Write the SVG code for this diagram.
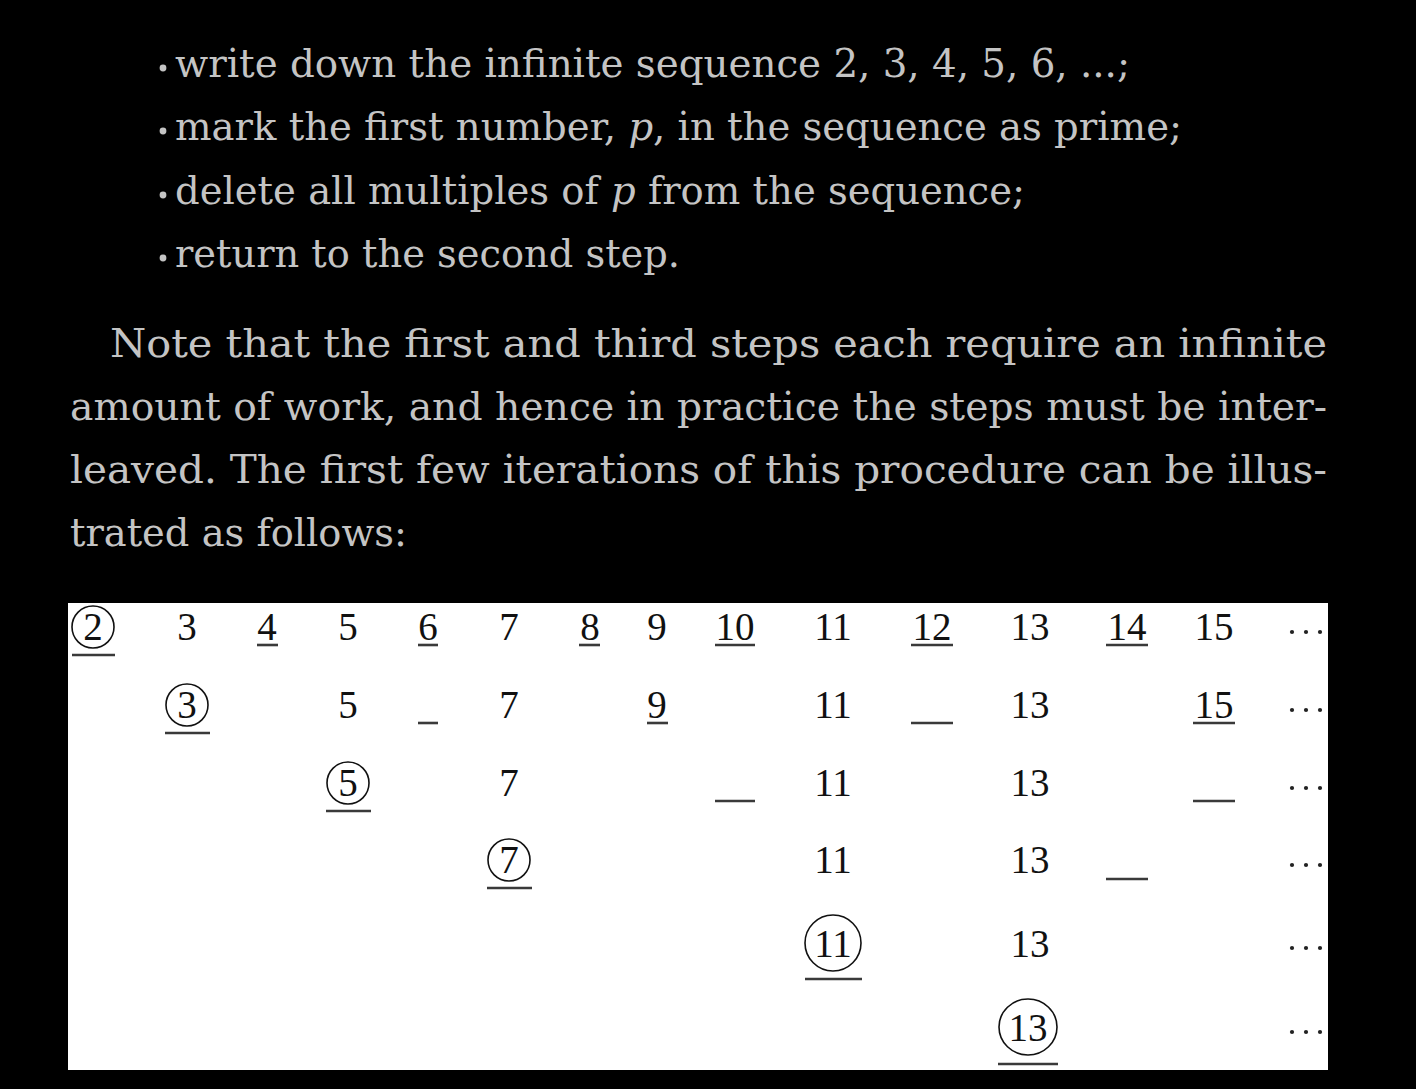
<svg xmlns="http://www.w3.org/2000/svg" width="1416" height="1089" viewBox="0 0 1416 1089">
<style>
.t{font-family:"DejaVu Serif","Liberation Serif",serif;font-size:39px;fill:#c4c4c4}
.i{font-style:italic}
.n{font-family:"Liberation Serif","DejaVu Serif",serif;font-size:39px;fill:#111;text-anchor:middle}
.c{fill:none;stroke:#111;stroke-width:1.6}
.u{stroke:#3a3a3a;stroke-width:2.6}
.d{fill:#222}
.b{fill:#c4c4c4}
</style>
<rect width="1416" height="1089" fill="#000"/>
<g id="bullets">
<circle class="b" cx="163" cy="68" r="3.4"/>
<circle class="b" cx="163" cy="131" r="3.4"/>
<circle class="b" cx="163" cy="195" r="3.4"/>
<circle class="b" cx="163" cy="258" r="3.4"/>
<text class="t" x="175" y="77" textLength="955" lengthAdjust="spacingAndGlyphs">write down the infinite sequence 2, 3, 4, 5, 6, ...;</text>
<text class="t" x="175" y="140" textLength="1007" lengthAdjust="spacingAndGlyphs">mark the first number, <tspan class="i">p</tspan>, in the sequence as prime;</text>
<text class="t" x="175" y="204" textLength="850" lengthAdjust="spacingAndGlyphs">delete all multiples of <tspan class="i">p</tspan> from the sequence;</text>
<text class="t" x="175" y="267" textLength="505" lengthAdjust="spacingAndGlyphs">return to the second step.</text>
</g>
<g id="paragraph">
<text class="t" x="110" y="357" textLength="1217" lengthAdjust="spacingAndGlyphs">Note that the first and third steps each require an infinite</text>
<text class="t" x="70" y="420" textLength="1257" lengthAdjust="spacingAndGlyphs">amount of work, and hence in practice the steps must be inter-</text>
<text class="t" x="70" y="483" textLength="1257" lengthAdjust="spacingAndGlyphs">leaved. The first few iterations of this procedure can be illus-</text>
<text class="t" x="70" y="546" textLength="337" lengthAdjust="spacingAndGlyphs">trated as follows:</text>
</g>
<g id="table">
<rect x="68" y="603" width="1260" height="467" fill="#fff"/>
<g id="row1">
<circle class="c" cx="93" cy="627" r="21"/>
<text class="n" x="93" y="640">2</text>
<line class="u" x1="72" y1="655" x2="115" y2="655"/>
<text class="n" x="187" y="640">3</text>
<text class="n" x="267" y="640">4</text>
<line class="u" x1="257" y1="645" x2="278" y2="645"/>
<text class="n" x="348" y="640">5</text>
<text class="n" x="428" y="640">6</text>
<line class="u" x1="418" y1="645" x2="438" y2="645"/>
<text class="n" x="509" y="640">7</text>
<text class="n" x="590" y="640">8</text>
<line class="u" x1="579" y1="645" x2="600" y2="645"/>
<text class="n" x="657" y="640">9</text>
<text class="n" x="735" y="640">10</text>
<line class="u" x1="715" y1="645" x2="755" y2="645"/>
<text class="n" x="833" y="640">11</text>
<text class="n" x="932" y="640">12</text>
<line class="u" x1="911" y1="645" x2="953" y2="645"/>
<text class="n" x="1030" y="640">13</text>
<text class="n" x="1127" y="640">14</text>
<line class="u" x1="1106" y1="645" x2="1148" y2="645"/>
<text class="n" x="1214" y="640">15</text>
<circle class="d" cx="1292" cy="632" r="2.1"/><circle class="d" cx="1306" cy="632" r="2.1"/><circle class="d" cx="1320" cy="632" r="2.1"/>
</g>
<g id="row2">
<circle class="c" cx="187" cy="705" r="21"/>
<text class="n" x="187" y="718">3</text>
<line class="u" x1="165" y1="733" x2="210" y2="733"/>
<text class="n" x="348" y="718">5</text>
<line class="u" x1="418" y1="723" x2="438" y2="723"/>
<text class="n" x="509" y="718">7</text>
<text class="n" x="657" y="718">9</text>
<line class="u" x1="647" y1="723" x2="668" y2="723"/>
<text class="n" x="833" y="718">11</text>
<line class="u" x1="911" y1="723" x2="953" y2="723"/>
<text class="n" x="1030" y="718">13</text>
<text class="n" x="1214" y="718">15</text>
<line class="u" x1="1193" y1="723" x2="1235" y2="723"/>
<circle class="d" cx="1292" cy="710" r="2.1"/><circle class="d" cx="1306" cy="710" r="2.1"/><circle class="d" cx="1320" cy="710" r="2.1"/>
</g>
<g id="row3">
<circle class="c" cx="348" cy="783" r="21"/>
<text class="n" x="348" y="796">5</text>
<line class="u" x1="326" y1="811" x2="371" y2="811"/>
<text class="n" x="509" y="796">7</text>
<line class="u" x1="715" y1="801" x2="755" y2="801"/>
<text class="n" x="833" y="796">11</text>
<text class="n" x="1030" y="796">13</text>
<line class="u" x1="1193" y1="801" x2="1235" y2="801"/>
<circle class="d" cx="1292" cy="788" r="2.1"/><circle class="d" cx="1306" cy="788" r="2.1"/><circle class="d" cx="1320" cy="788" r="2.1"/>
</g>
<g id="row4">
<circle class="c" cx="509" cy="860" r="21"/>
<text class="n" x="509" y="873">7</text>
<line class="u" x1="487" y1="888" x2="532" y2="888"/>
<text class="n" x="833" y="873">11</text>
<text class="n" x="1030" y="873">13</text>
<line class="u" x1="1106" y1="879" x2="1148" y2="879"/>
<circle class="d" cx="1292" cy="865" r="2.1"/><circle class="d" cx="1306" cy="865" r="2.1"/><circle class="d" cx="1320" cy="865" r="2.1"/>
</g>
<g id="row5">
<ellipse class="c" cx="833" cy="943" rx="28" ry="28"/>
<text class="n" x="833" y="957">11</text>
<line class="u" x1="805" y1="979" x2="862" y2="979"/>
<text class="n" x="1030" y="957">13</text>
<circle class="d" cx="1292" cy="948" r="2.1"/><circle class="d" cx="1306" cy="948" r="2.1"/><circle class="d" cx="1320" cy="948" r="2.1"/>
</g>
<g id="row6">
<ellipse class="c" cx="1028" cy="1027" rx="29" ry="28"/>
<text class="n" x="1028" y="1041">13</text>
<line class="u" x1="998" y1="1064" x2="1058" y2="1064"/>
<circle class="d" cx="1292" cy="1032" r="2.1"/><circle class="d" cx="1306" cy="1032" r="2.1"/><circle class="d" cx="1320" cy="1032" r="2.1"/>
</g>
</g>
</svg>
